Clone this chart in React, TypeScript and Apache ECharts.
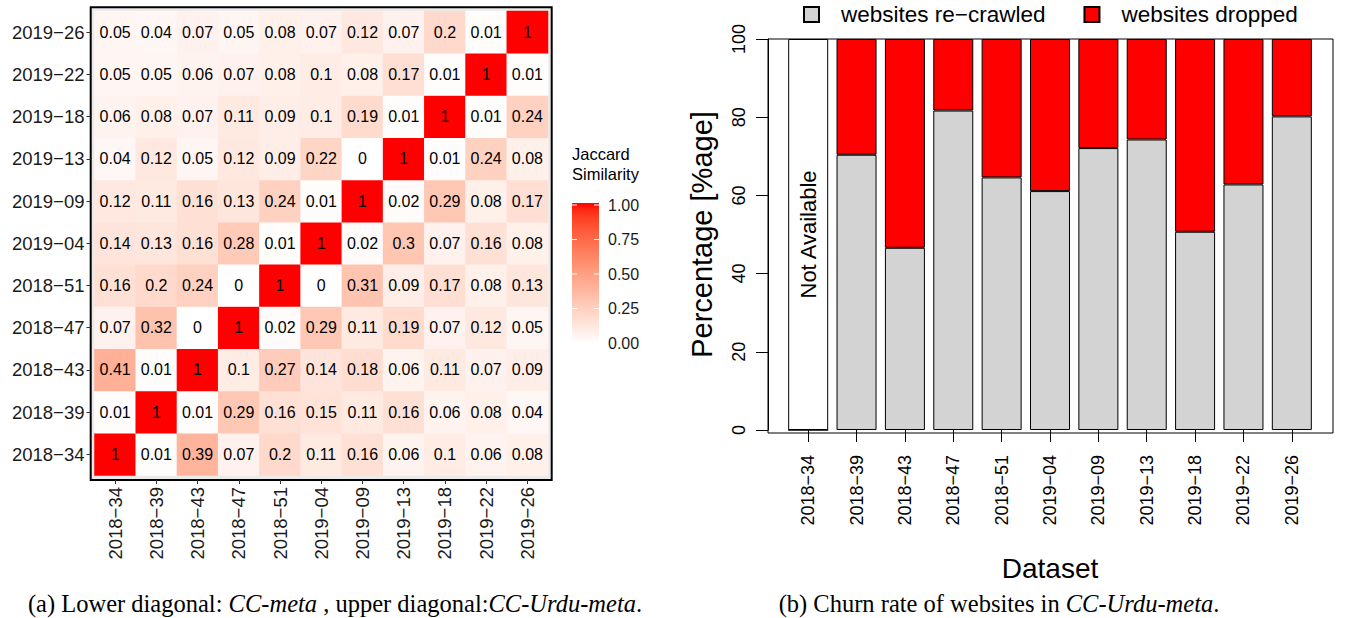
import React, { useEffect, useRef } from "react";
import * as echarts from "echarts";

const datasets = ["2018−34", "2018−39", "2018−43", "2018−47", "2018−51", "2019−04", "2019−09", "2019−13", "2019−18", "2019−22", "2019−26"];

// Jaccard similarity, one array per heatmap row (row label = dataset); columns follow `datasets`
const row2019_26 = [0.05, 0.04, 0.07, 0.05, 0.08, 0.07, 0.12, 0.07, 0.2, 0.01, 1];
const row2019_22 = [0.05, 0.05, 0.06, 0.07, 0.08, 0.1, 0.08, 0.17, 0.01, 1, 0.01];
const row2019_18 = [0.06, 0.08, 0.07, 0.11, 0.09, 0.1, 0.19, 0.01, 1, 0.01, 0.24];
const row2019_13 = [0.04, 0.12, 0.05, 0.12, 0.09, 0.22, 0, 1, 0.01, 0.24, 0.08];
const row2019_09 = [0.12, 0.11, 0.16, 0.13, 0.24, 0.01, 1, 0.02, 0.29, 0.08, 0.17];
const row2019_04 = [0.14, 0.13, 0.16, 0.28, 0.01, 1, 0.02, 0.3, 0.07, 0.16, 0.08];
const row2018_51 = [0.16, 0.2, 0.24, 0, 1, 0, 0.31, 0.09, 0.17, 0.08, 0.13];
const row2018_47 = [0.07, 0.32, 0, 1, 0.02, 0.29, 0.11, 0.19, 0.07, 0.12, 0.05];
const row2018_43 = [0.41, 0.01, 1, 0.1, 0.27, 0.14, 0.18, 0.06, 0.11, 0.07, 0.09];
const row2018_39 = [0.01, 1, 0.01, 0.29, 0.16, 0.15, 0.11, 0.16, 0.06, 0.08, 0.04];
const row2018_34 = [1, 0.01, 0.39, 0.07, 0.2, 0.11, 0.16, 0.06, 0.1, 0.06, 0.08];
// bottom-to-top order, matching `datasets`
const jaccardRows = [row2018_34, row2018_39, row2018_43, row2018_47, row2018_51, row2019_04, row2019_09, row2019_13, row2019_18, row2019_22, row2019_26];

const colorbarTicks = [0, 0.25, 0.5, 0.75, 1];

// Churn rate (%)
const recrawled = [0, 70.4, 46.6, 81.7, 64.6, 61.1, 72.1, 74.3, 50.7, 62.8, 80.2];
const dropped = [null, 29.6, 53.4, 18.3, 35.4, 38.9, 27.9, 25.7, 49.3, 37.2, 19.8];
const notAvailable = [100, null, null, null, null, null, null, null, null, null, null];

const SANS = "Liberation Sans, Arial, Helvetica, sans-serif";
const SERIF = "Liberation Serif, Times New Roman, serif";

// white -> red interpolation in CIE Lab (like ggplot2's scale_fill_gradient)
function labMix(t: number): string {
  const L = 100 + (53.24 - 100) * t;
  const A = 80.09 * t;
  const B = 67.2 * t;
  const fy = (L + 16) / 116;
  const fx = fy + A / 500;
  const fz = fy - B / 200;
  const finv = (v: number) => (v > 6 / 29 ? v * v * v : 3 * (6 / 29) * (6 / 29) * (v - 4 / 29));
  const X = 0.95047 * finv(fx);
  const Y = finv(fy);
  const Z = 1.08883 * finv(fz);
  const lin = [
    3.2406 * X - 1.5372 * Y - 0.4986 * Z,
    -0.9689 * X + 1.8758 * Y + 0.0415 * Z,
    0.0557 * X - 0.204 * Y + 1.057 * Z,
  ];
  const hex = lin
    .map((c) => {
      const cc = Math.min(1, Math.max(0, c));
      const s = cc <= 0.0031308 ? 12.92 * cc : 1.055 * Math.pow(cc, 1 / 2.4) - 0.055;
      const v = Math.round(Math.min(1, Math.max(0, s)) * 255);
      return v.toString(16).padStart(2, "0");
    })
    .join("");
  return "#" + hex;
}

const rampSteps = 20;
const ramp: string[] = [];
for (let i = 0; i <= rampSteps; i++) ramp.push(labMix(i / rampSteps));

export default function App() {
  const ref = useRef<HTMLDivElement>(null);
  useEffect(() => {
    if (!ref.current) return;
    const chart = echarts.init(ref.current, null, { renderer: "svg" });

    const heatData: any[] = [];
    jaccardRows.forEach((row, yi) => {
      row.forEach((v, xi) => heatData.push([xi, yi, v]));
    });

    // colorbar geometry
    const cbX = 572, cbY = 203, cbW = 27, cbH = 140;
    const tickY = (v: number) => cbY + 2 + (1 - v) * (cbH - 2);
    const cbGraphics: any[] = [
      {
        type: "rect",
        shape: { x: cbX, y: cbY, width: cbW, height: cbH },
        style: {
          fill: {
            type: "linear", x: 0, y: 0, x2: 0, y2: 1,
            colorStops: ramp.map((c, i) => ({ offset: i / rampSteps, color: ramp[rampSteps - i] })),
          },
        },
      },
    ];
    colorbarTicks.forEach((v) => {
      const y = tickY(v);
      cbGraphics.push({ type: "line", shape: { x1: cbX, y1: y, x2: cbX + 5, y2: y }, style: { stroke: "#fff", lineWidth: 1 } });
      cbGraphics.push({ type: "line", shape: { x1: cbX + cbW - 5, y1: y, x2: cbX + cbW, y2: y }, style: { stroke: "#fff", lineWidth: 1 } });
      cbGraphics.push({
        type: "text", x: 608, y,
        style: { text: v.toFixed(2), fontSize: 16, fontFamily: SANS, fill: "#1a1a1a", verticalAlign: "middle", align: "left" },
      });
    });

    const option: any = {
      animation: false,
      backgroundColor: "#fff",
      textStyle: { fontFamily: SANS },
      grid: [
        { left: 94.5, top: 11, width: 453.5, height: 464.5 },
        { left: 784, top: 39, width: 532, height: 391 },
      ],
      xAxis: [
        {
          type: "category", gridIndex: 0, data: datasets, offset: 4.5,
          axisLine: { show: false },
          axisTick: { show: true, alignWithLabel: true, length: 4, lineStyle: { color: "#333" } },
          axisLabel: { rotate: 90, margin: 7, fontSize: 18.5, color: "#1a1a1a", fontFamily: SANS },
          splitLine: { show: false },
        },
        {
          type: "category", gridIndex: 1, data: datasets, offset: 3,
          axisLine: { show: false },
          axisTick: { show: true, alignWithLabel: true, length: 12, lineStyle: { color: "#000" } },
          axisLabel: { rotate: 90, margin: 22, fontSize: 18, color: "#000", fontFamily: SANS },
          name: "Dataset", nameLocation: "middle", nameGap: 121,
          nameTextStyle: { fontSize: 28, color: "#000", fontFamily: SANS },
        },
      ],
      yAxis: [
        {
          type: "category", gridIndex: 0, data: datasets, offset: 4,
          axisLine: { show: false },
          axisTick: { show: true, alignWithLabel: true, length: 4, lineStyle: { color: "#333" } },
          axisLabel: { margin: 6, fontSize: 18.5, color: "#1a1a1a", fontFamily: SANS },
          splitLine: { show: false },
        },
        {
          type: "value", gridIndex: 1, min: 0, max: 100, interval: 20, offset: 16,
          axisLine: { show: true, lineStyle: { color: "#000" } },
          axisTick: { show: true, length: 12, lineStyle: { color: "#000" } },
          axisLabel: { rotate: 90, margin: 20, fontSize: 18, color: "#000", fontFamily: SANS },
          splitLine: { show: false },
          name: "Percentage [%age]", nameLocation: "middle", nameGap: 52,
          nameTextStyle: { fontSize: 29, color: "#000", fontFamily: SANS },
        },
      ],
      visualMap: {
        show: false, seriesIndex: 0, dimension: 2, min: 0, max: 1,
        inRange: { color: ramp },
      },
      legend: {
        data: ["websites re−crawled", "websites dropped"],
        left: 803, top: 3, padding: 0,
        icon: "rect", itemWidth: 15, itemHeight: 15, itemGap: 38,
        textStyle: { fontSize: 22.5, color: "#000", fontFamily: SANS, padding: [0, 0, 0, 17] },
      },
      series: [
        {
          type: "heatmap", xAxisIndex: 0, yAxisIndex: 0, data: heatData,
          label: {
            show: true, fontSize: 16, color: "#000", fontFamily: SANS,
            formatter: (p: any) => String(p.value[2]),
          },
          emphasis: { disabled: true },
        },
        {
          name: "websites re−crawled", type: "bar", xAxisIndex: 1, yAxisIndex: 1, stack: "total",
          barWidth: 40, data: recrawled,
          itemStyle: { color: "#D3D3D3", borderColor: "#000", borderWidth: 1 },
        },
        {
          name: "websites dropped", type: "bar", xAxisIndex: 1, yAxisIndex: 1, stack: "total",
          barWidth: 40, data: dropped,
          itemStyle: { color: "#FF0000", borderColor: "#000", borderWidth: 1 },
        },
        {
          name: "Not Available", type: "bar", xAxisIndex: 1, yAxisIndex: 1, stack: "total",
          barWidth: 40, data: notAvailable,
          itemStyle: { color: "#FFFFFF", borderColor: "#000", borderWidth: 1 },
          label: {
            show: true, position: "inside", rotate: 90, formatter: "Not Available",
            fontSize: 22, color: "#000", fontFamily: SANS,
          },
        },
      ],
      graphic: [
        {
          type: "rect", z: -10, silent: true,
          shape: { x: 90.7, y: 7.3, width: 461, height: 472.7 },
          style: { fill: "#EBEBEB", stroke: "#000", lineWidth: 2 },
        },
        {
          type: "rect", z: -10, silent: true,
          shape: { x: 768, y: 39, width: 565, height: 394 },
          style: { fill: "none", stroke: "#000", lineWidth: 1 },
        },
        {
          type: "text", x: 572, y: 144,
          style: { text: "Jaccard\nSimilarity", fontSize: 16.5, lineHeight: 20, fontFamily: SANS, fill: "#000", align: "left", verticalAlign: "top" },
        },
        ...cbGraphics,
        {
          type: "text", x: 335, y: 603,
          style: {
            text: "{n|(a) Lower diagonal: }{i|CC-meta}{n| , upper diagonal:}{i|CC-Urdu-meta}{n|.}",
            align: "center", verticalAlign: "middle",
            rich: {
              n: { fontSize: 24.5, fontFamily: SERIF, fill: "#000" },
              i: { fontSize: 24.5, fontFamily: SERIF, fontStyle: "italic", fill: "#000" },
            },
          },
        },
        {
          type: "text", x: 999, y: 603,
          style: {
            text: "{n|(b) Churn rate of websites in }{i|CC-Urdu-meta}{n|.}",
            align: "center", verticalAlign: "middle",
            rich: {
              n: { fontSize: 24.5, fontFamily: SERIF, fill: "#000" },
              i: { fontSize: 24.5, fontFamily: SERIF, fontStyle: "italic", fill: "#000" },
            },
          },
        },
      ],
    };
    chart.setOption(option);
    return () => chart.dispose();
  }, []);
  return (
    <div
      ref={ref}
      style={{ position: "fixed", left: 0, top: 0, width: 1345, height: 618, background: "#fff" }}
    />
  );
}
